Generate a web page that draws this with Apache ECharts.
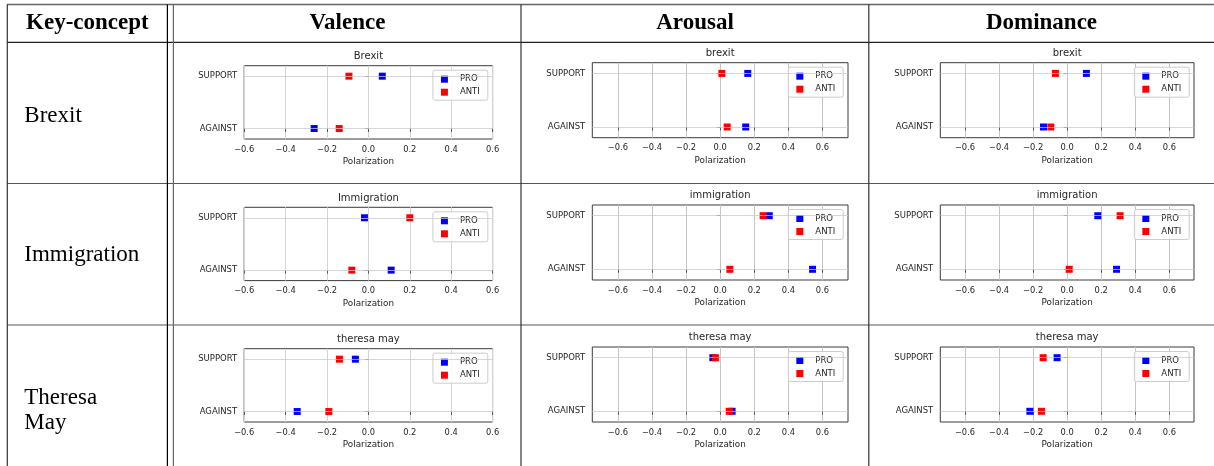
<!DOCTYPE html>
<html>
<head>
<meta charset="utf-8">
<script src="https://cdn.jsdelivr.net/npm/echarts@6/dist/echarts.min.js"></script>
<style>
html,body{margin:0;padding:0;background:#fff;}
#chart{width:1214px;height:466px;}
</style>
</head>
<body>
<div id="chart"></div>
<script>
// ---------------- DATA ----------------
const headerConcept = 'Key-concept';
const dimensions = ['Valence', 'Arousal', 'Dominance'];
const rowLabels = ['Brexit', 'Immigration', 'Theresa\nMay'];
const plotTitles = [
  ['Brexit', 'brexit', 'brexit'],
  ['Immigration', 'immigration', 'immigration'],
  ['theresa may', 'theresa may', 'theresa may']
];
const stances = ['AGAINST', 'SUPPORT'];
const groups = ['PRO', 'ANTI'];
const xTicks = [-0.6, -0.4, -0.2, 0.0, 0.2, 0.4, 0.6];
const xAxisName = 'Polarization';
// each entry per concept row: [AGAINST, SUPPORT]
const valencePro   = [[-0.262, 0.067], [0.110, -0.019], [-0.344, -0.063]];
const valenceAnti  = [[-0.141, -0.094], [-0.080, 0.200], [-0.191, -0.140]];
const arousalPro   = [[0.150, 0.162], [0.542, 0.288], [0.070, -0.043]];
const arousalAnti  = [[0.041, 0.010], [0.057, 0.252], [0.053, -0.028]];
const dominancePro = [[-0.139, 0.113], [0.290, 0.180], [-0.219, -0.059]];
const dominanceAnti= [[-0.096, -0.069], [0.012, 0.311], [-0.151, -0.141]];
const proValues = [valencePro, arousalPro, dominancePro];
const antiValues = [valenceAnti, arousalAnti, dominanceAnti];
const xRanges = [[-0.6, 0.6], [-0.75, 0.75], [-0.745, 0.745]];

// ---------------- LAYOUT ----------------
const W = 1214;
const colGeom = [
  {left: 244.2, width: 248.4, tops: [65.7, 207.3, 348.7], height: 73.3, titleY: [56, 198.3, 339.3], grid: '#d4d4d4'},
  {left: 592.3, width: 255.7, tops: [62.7, 205, 347], height: 75, titleY: [53.3, 195.7, 337], grid: '#c4c4c4'},
  {left: 940.3, width: 253.7, tops: [62.7, 205, 347], height: 75, titleY: [53.3, 195.7, 337], grid: '#c4c4c4'}
];
const FONT = 'DejaVu Sans';
const SERIF = 'Liberation Serif';
const txt = '#262626';
const fmtX = v => (v < -1e-9 ? '\u2212' : '') + Math.abs(v).toFixed(1);

const grids = [], xAxes = [], yAxes = [], series = [], legends = [], graphics = [];

for (let r = 0; r < 3; r++) {
  for (let c = 0; c < 3; c++) {
    const g = colGeom[c];
    const idx = grids.length;
    grids.push({
      left: g.left, top: g.tops[r], width: g.width, height: g.height,
      show: true, borderColor: '#3a3a3a', borderWidth: 1, backgroundColor: 'transparent',
      containLabel: false, outerBoundsMode: 'none'
    });
    xAxes.push({
      type: 'value', gridIndex: idx, min: xRanges[c][0], max: xRanges[c][1],
      name: xAxisName, nameLocation: 'middle', nameGap: 18.5,
      nameTextStyle: {fontFamily: FONT, fontSize: 8.8, color: txt},
      axisLine: {show: false},
      axisTick: {show: true, customValues: xTicks, length: 3.5, lineStyle: {color: '#3a3a3a', width: 0.8}},
      axisLabel: {show: true, customValues: xTicks, formatter: fmtX, fontFamily: FONT, fontSize: 8.3, color: txt, margin: 6.5, hideOverlap: false},
      splitLine: {show: true, lineStyle: {color: g.grid, width: 1}}
    });
    yAxes.push({
      type: 'value', gridIndex: idx, min: -0.2, max: 1.2,
      axisLine: {show: false},
      axisTick: {show: true, customValues: [0, 1], length: 3.5, lineStyle: {color: '#3a3a3a', width: 0.8}},
      axisLabel: {show: true, customValues: [0, 1], formatter: v => stances[Math.round(v)], fontFamily: FONT, fontSize: 8.5, color: txt, margin: 7},
      splitLine: {show: false}
    });
    const pro = proValues[c][r], anti = antiValues[c][r];
    series.push({
      type: 'scatter', name: groups[0], xAxisIndex: idx, yAxisIndex: idx,
      symbol: 'rect', symbolSize: 7, itemStyle: {color: '#0000ff', opacity: 1},
      data: pro.map((v, k) => [v, k]), silent: true, z: 2
    });
    series.push({
      type: 'scatter', name: groups[1], xAxisIndex: idx, yAxisIndex: idx,
      symbol: 'rect', symbolSize: 7, itemStyle: {color: '#ff0000', opacity: 1},
      data: anti.map((v, k) => [v, k]), silent: true, z: 3
    });
    series.push({
      type: 'line', name: 'gridY' + idx, xAxisIndex: idx, yAxisIndex: idx, data: [], z: 4,
      markLine: {
        silent: true, symbol: ['none', 'none'], label: {show: false},
        lineStyle: {color: 'rgba(200,200,200,0.75)', width: 1, type: 'solid'},
        emphasis: {disabled: true},
        data: [{yAxis: 0}, {yAxis: 1}]
      }
    });
    legends.push({
      data: groups, orient: 'vertical',
      right: W - (g.left + g.width - 4.8), top: g.tops[r] + 4.5,
      padding: [4, 8, 3, 8], itemWidth: 7, itemHeight: 7, itemGap: 3, icon: 'rect',
      borderColor: '#cccccc', borderWidth: 1, borderRadius: 2, backgroundColor: 'rgba(255,255,255,0.85)',
      itemStyle: {opacity: 1},
      textStyle: {fontFamily: FONT, fontSize: 8.5, color: txt, lineHeight: 10, padding: [0, 0, 0, 7]},
      selectedMode: false
    });
    graphics.push({
      type: 'text', x: g.left + g.width / 2, y: g.titleY[r], silent: true,
      style: {text: plotTitles[r][c], fontFamily: FONT, fontSize: 10, fill: txt, align: 'center', verticalAlign: 'middle'}
    });
  }
}

// table lines
const line = (x1, y1, x2, y2, color, w) => ({type: 'line', silent: true, z: 10,
  shape: {x1, y1, x2, y2}, style: {stroke: color, lineWidth: w}});
graphics.push(line(7, 4.5, W, 4.5, '#666', 1.5));
graphics.push(line(7, 42.3, W, 42.3, '#222', 1.2));
graphics.push(line(7, 183.5, W, 183.5, '#555', 1.2));
graphics.push(line(7, 325, W, 325, '#555', 1.2));
graphics.push(line(7.3, 4.5, 7.3, 466, '#333', 1.2));
graphics.push(line(167.4, 4.5, 167.4, 466, '#000', 1.2));
graphics.push(line(173.4, 4.5, 173.4, 466, '#666', 1.2));
graphics.push(line(521, 4.5, 521, 466, '#333', 1.2));
graphics.push(line(868.8, 4.5, 868.8, 466, '#333', 1.2));

// header text
const headerCenters = [87.4, 347.5, 695, 1041.5];
[headerConcept].concat(dimensions).forEach((t, i) => {
  graphics.push({type: 'text', x: headerCenters[i], y: 23, silent: true,
    style: {text: t, fontFamily: SERIF, fontWeight: 'bold', fontSize: 23, fill: '#000', align: 'center', verticalAlign: 'middle'}});
});
const rowY = [115.5, 255.2, 410.2];
rowLabels.forEach((t, i) => {
  graphics.push({type: 'text', x: 24.3, y: rowY[i], silent: true,
    style: {text: t, fontFamily: SERIF, fontSize: 23, lineHeight: 25.4, fill: '#000', align: 'left', verticalAlign: 'middle'}});
});

const chart = echarts.init(document.getElementById('chart'), null, {renderer: 'canvas'});
chart.setOption({
  animation: false,
  backgroundColor: '#ffffff',
  grid: grids, xAxis: xAxes, yAxis: yAxes, series: series, legend: legends, graphic: graphics
});
</script>
</body>
</html>
